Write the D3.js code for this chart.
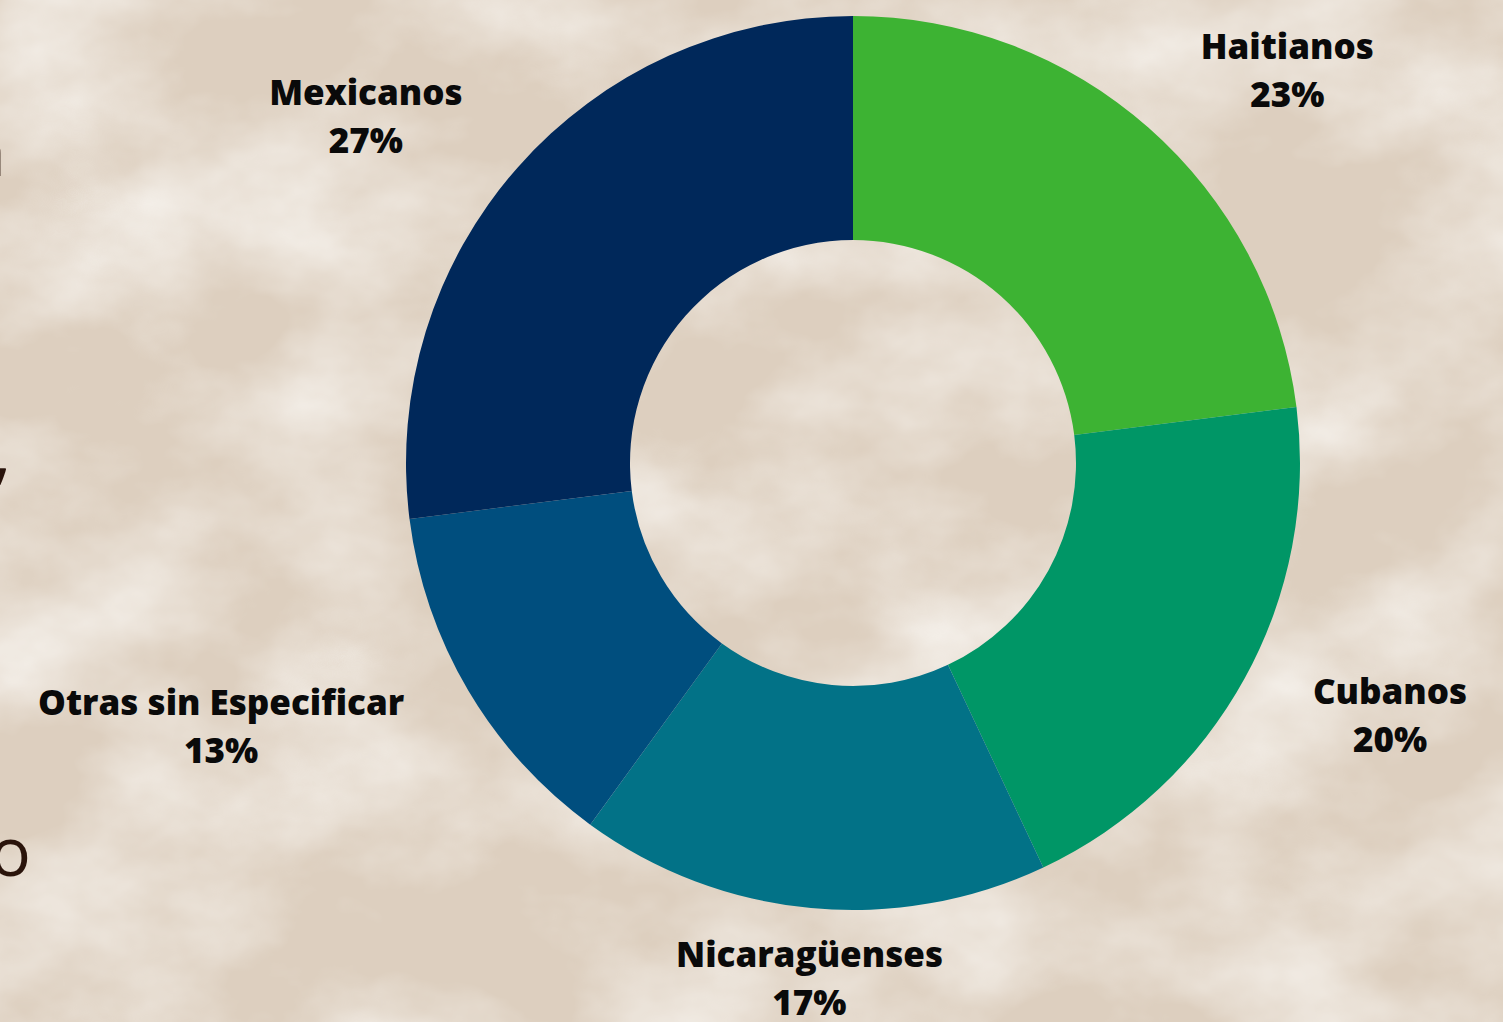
<!DOCTYPE html>
<html>
<head>
<meta charset="utf-8">
<script src="https://cdn.jsdelivr.net/npm/d3@7"></script>
<style>
  html, body { margin: 0; padding: 0; overflow: hidden; background: #e1d4c5; }
  svg { display: block; }
  .lbl { font-family: "Open Sans", sans-serif; font-weight: 800; font-size: 35px; fill: #0a0a0a; }
  .side { font-family: "Open Sans", sans-serif; font-weight: 400; font-size: 68px; fill: #2a140b; }
</style>
</head>
<body>
<div id="chart"></div>
<script>
// data
var categories = ["Haitianos", "Cubanos", "Nicaragüenses", "Otras sin Especificar", "Mexicanos"];
var values = [23, 20, 17, 13, 27];
var colors = ["#3db333", "#009666", "#027287", "#004e7e", "#00285a"];

// bits of cut-off paragraph text on the left edge
var sideText = ["n", ",", "o"];

var width = 1503, height = 1022;
var cx = 853, cy = 463,
    outerR = 447, innerR = 223,
    labelR = 525;

// small per label tweaks (degrees, px) so the labels sit where they do in the slide
var labelNudge = [[4.5, 0], [-2.2, 0], [-1.7, -45], [3.25, 9], [-3.55, 0]];

var svg = d3.select("#chart").append("svg")
    .attr("width", width)
    .attr("height", height);

// ---- background texture ----
var defs = svg.append("defs");
var f = defs.append("filter").attr("id", "tex")
    .attr("x", 0).attr("y", 0).attr("width", "100%").attr("height", "100%");
f.append("feTurbulence")
    .attr("type", "fractalNoise")
    .attr("baseFrequency", "0.005 0.007")
    .attr("numOctaves", 5)
    .attr("seed", 11)
    .attr("result", "n");
f.append("feColorMatrix")
    .attr("in", "n")
    .attr("type", "matrix")
    .attr("values", "0 0 0 0 0.93  0 0 0 0 0.9  0 0 0 0 0.86  1.7 0 0 0 -0.62");

svg.append("rect").attr("width", width).attr("height", height).attr("fill", "#ddcfbf");
svg.append("rect").attr("width", width).attr("height", height).attr("filter", "url(#tex)");

// side text pieces
var sidePos = [[6, 176], [11, 476], [31, 876]];
svg.selectAll("text.side")
    .data(sideText)
  .enter().append("text")
    .attr("class", "side")
    .attr("text-anchor", "end")
    .attr("x", function(d, i) { return sidePos[i][0]; })
    .attr("y", function(d, i) { return sidePos[i][1]; })
    .text(function(d) { return d; });

// ---- donut ----
var data = categories.map(function(c, i) {
  return {name: c, value: values[i], color: colors[i], idx: i};
});

var pie = d3.pie()
    .sort(null)
    .value(function(d) { return d.value; });

var arc = d3.arc()
    .innerRadius(innerR)
    .outerRadius(outerR);

var g = svg.append("g")
    .attr("transform", "translate(" + cx + "," + cy + ")");

var arcs = pie(data);

g.selectAll("path.slice")
    .data(arcs)
  .enter().append("path")
    .attr("class", "slice")
    .attr("d", arc)
    .attr("fill", function(d) { return d.data.color; });

// ---- labels ----
var total = d3.sum(values);
var lbl = g.selectAll("g.lbl")
    .data(arcs)
  .enter().append("g")
    .attr("class", "lbl");

lbl.append("text")
    .attr("class", "lbl name")
    .attr("text-anchor", "middle")
    .text(function(d) { return d.data.name; });

lbl.append("text")
    .attr("class", "lbl pct")
    .attr("text-anchor", "middle")
    .attr("y", 48)
    .text(function(d) { return Math.round(d.value / total * 100) + "%"; });

lbl.each(function(d) {
  var sel = d3.select(this);
  var w = sel.select("text.name").node().getComputedTextLength();
  var nudge = labelNudge[d.index];
  var mid = (d.startAngle + d.endAngle) / 2;
  var a = mid + nudge[0] * Math.PI / 180;
  var r = labelR + nudge[1];
  var px = r * Math.sin(a), py = -r * Math.cos(a);
  var s = Math.sin(mid), c = Math.cos(mid);
  var bx = px + (w / 2) * s;
  var by = py - 36.5 * c;
  // block centre -> baseline of the name line
  sel.attr("transform", "translate(" + bx + "," + (by - 11.5) + ")");
});
</script>
</body>
</html>
